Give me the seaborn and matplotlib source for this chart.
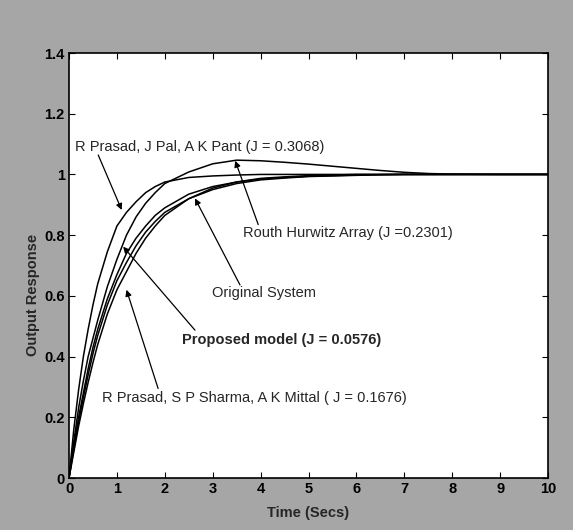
import matplotlib
matplotlib.use("Agg")
import matplotlib.pyplot as plt
import seaborn as sns
import pandas as pd

# ---- data ----
time = [0, 0.1, 0.2, 0.3, 0.4, 0.5, 0.6, 0.8, 1.0, 1.2, 1.4, 1.6, 1.8, 2.0,
        2.5, 3.0, 3.5, 4.0, 4.5, 5.0, 5.5, 6.0, 6.5, 7.0, 7.5, 8.0, 9.0, 10.0]

prasad_pal = [0, 0.16, 0.29, 0.40, 0.49, 0.57, 0.64, 0.745, 0.83, 0.875, 0.91,
              0.94, 0.96, 0.975, 0.99, 0.995, 0.998, 1.0, 1.0, 1.0, 1.0, 1.0,
              1.0, 1.0, 1.0, 1.0, 1.0, 1.0]
routh_hurwitz = [0, 0.12, 0.23, 0.32, 0.40, 0.46, 0.52, 0.63, 0.72, 0.80, 0.86,
                 0.905, 0.94, 0.97, 1.008, 1.035, 1.047, 1.045, 1.04, 1.034,
                 1.027, 1.02, 1.013, 1.007, 1.003, 1.001, 1.0, 1.0]
proposed = [0, 0.105, 0.20, 0.28, 0.36, 0.43, 0.49, 0.59, 0.67, 0.74, 0.79,
            0.83, 0.865, 0.89, 0.935, 0.96, 0.975, 0.985, 0.99, 0.994, 0.996,
            0.998, 0.999, 1.0, 1.0, 1.0, 1.0, 1.0]
original = [0, 0.095, 0.185, 0.265, 0.34, 0.41, 0.47, 0.57, 0.65, 0.71, 0.765,
            0.81, 0.845, 0.875, 0.92, 0.95, 0.97, 0.982, 0.988, 0.993, 0.995,
            0.997, 0.999, 1.0, 1.0, 1.0, 1.0, 1.0]
prasad_sharma = [0, 0.085, 0.17, 0.245, 0.315, 0.38, 0.44, 0.54, 0.62, 0.68,
                 0.74, 0.79, 0.83, 0.865, 0.92, 0.955, 0.975, 0.987, 0.992,
                 0.996, 0.998, 1.0, 1.0, 1.0, 1.0, 1.0, 1.0, 1.0]

series = {
    "R Prasad, J Pal, A K Pant": prasad_pal,
    "Routh Hurwitz Array": routh_hurwitz,
    "Proposed model": proposed,
    "Original System": original,
    "R Prasad, S P Sharma, A K Mittal": prasad_sharma,
}

x_ticks = [0, 1, 2, 3, 4, 5, 6, 7, 8, 9, 10]
y_ticks = [0, 0.2, 0.4, 0.6, 0.8, 1.0, 1.2, 1.4]
y_tick_labels = ["0", "0.2", "0.4", "0.6", "0.8", "1", "1.2", "1.4"]

rows = []
for name, vals in series.items():
    for t, v in zip(time, vals):
        rows.append({"t": t, "y": v, "model": name})
df = pd.DataFrame(rows)

# ---- figure ----
sns.set_style("ticks")
plt.rcParams["font.family"] = ["Liberation Sans", "DejaVu Sans"]

bg = "#a6a6a6"
fig = plt.figure(figsize=(5.73, 5.30), dpi=100, facecolor=bg)
ax = fig.add_axes([69 / 573, 1 - 478 / 530, (548 - 69) / 573, (478 - 53) / 530])
ax.set_facecolor("white")

sns.lineplot(data=df, x="t", y="y", hue="model",
             palette=["black"] * len(series), linewidth=1.1,
             legend=False, ax=ax, estimator=None, sort=False)

ax.set_xlim(0, 10)
ax.set_ylim(0, 1.4)
ax.set_xticks(x_ticks)
ax.set_xticklabels([str(v) for v in x_ticks])
ax.set_yticks(y_ticks)
ax.set_yticklabels(y_tick_labels)
ax.tick_params(direction="in", top=True, right=True, length=4, width=0.8,
               labelsize=10.5, colors="black", pad=3)
for lab in ax.get_xticklabels() + ax.get_yticklabels():
    lab.set_family(["Liberation Sans Narrow", "Liberation Sans", "DejaVu Sans"])
    lab.set_fontweight("bold")
for sp in ax.spines.values():
    sp.set_linewidth(1.2)
    sp.set_color("black")

ax.set_xlabel("Time (Secs)", fontsize=10.5, fontweight="bold",
              family=["Liberation Sans Narrow", "Liberation Sans", "DejaVu Sans"])
ax.set_ylabel("Output Response", fontsize=10.5, fontweight="bold",
              family=["Liberation Sans Narrow", "Liberation Sans", "DejaVu Sans"])
ax.xaxis.set_label_coords(0.5, -0.065)
ax.yaxis.set_label_coords(-0.06, 0.43)

arrow = dict(arrowstyle="-|>", color="black", lw=0.9, mutation_scale=9,
             shrinkA=0, shrinkB=0)
fs = 10.5
ax.annotate("", xy=(1.10, 0.883), xytext=(0.61, 1.064), arrowprops=arrow)
ax.text(0.13, 1.09, "R Prasad, J Pal, A K Pant (J = 0.3068)", fontsize=fs,
        va="center", ha="left")

ax.annotate("", xy=(3.47, 1.045), xytext=(3.95, 0.835), arrowprops=arrow)
ax.text(3.64, 0.806, "Routh Hurwitz Array (J =0.2301)", fontsize=fs,
        va="center", ha="left")

ax.annotate("", xy=(2.63, 0.921), xytext=(3.57, 0.636), arrowprops=arrow)
ax.text(2.98, 0.608, "Original System", fontsize=fs, va="center", ha="left")

ax.annotate("", xy=(1.13, 0.762), xytext=(2.63, 0.487), arrowprops=arrow)
ax.text(2.35, 0.455, "Proposed model (J = 0.0576)", fontsize=fs,
        fontweight="bold", va="center", ha="left")

ax.annotate("", xy=(1.2, 0.62), xytext=(1.86, 0.295), arrowprops=arrow)
ax.text(0.68, 0.262, "R Prasad, S P Sharma, A K Mittal ( J = 0.1676)",
        fontsize=fs, va="center", ha="left")

fig.savefig("out.png", dpi=100, facecolor=bg)
